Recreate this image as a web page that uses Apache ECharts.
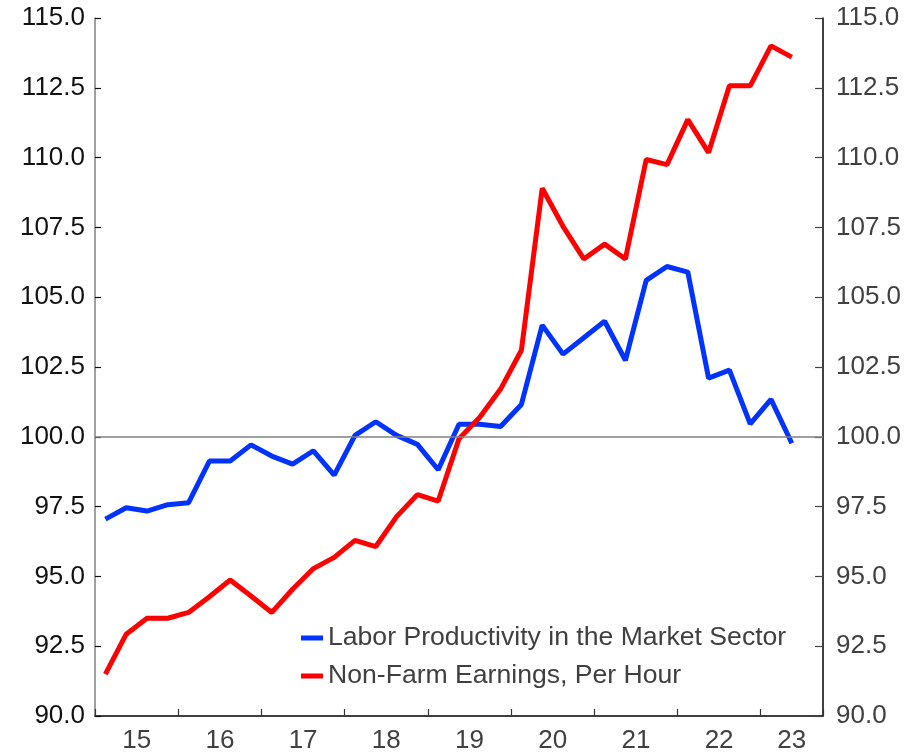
<!DOCTYPE html>
<html>
<head>
<meta charset="utf-8">
<script src="https://cdn.jsdelivr.net/npm/echarts@6/dist/echarts.min.js"></script>
<style>
html,body{margin:0;padding:0;background:#fff;}
#chart{width:912px;height:754px;}
</style>
</head>
<body>
<div id="chart"></div>
<script>
// Quarterly categories, 2015Q1 .. 2023Q3
var quarters = [
  '2015Q1','2015Q2','2015Q3','2015Q4',
  '2016Q1','2016Q2','2016Q3','2016Q4',
  '2017Q1','2017Q2','2017Q3','2017Q4',
  '2018Q1','2018Q2','2018Q3','2018Q4',
  '2019Q1','2019Q2','2019Q3','2019Q4',
  '2020Q1','2020Q2','2020Q3','2020Q4',
  '2021Q1','2021Q2','2021Q3','2021Q4',
  '2022Q1','2022Q2','2022Q3','2022Q4',
  '2023Q1','2023Q2','2023Q3'
];

var laborProductivity = [
  97.05, 97.46, 97.34, 97.57, 97.64, 99.13, 99.13, 99.71, 99.31, 99.02,
  99.50, 98.63, 100.05, 100.54, 100.05, 99.73, 98.82, 100.45, 100.45, 100.37,
  101.16, 104.00, 102.96, 103.55, 104.14, 102.74, 105.60, 106.10, 105.90, 102.10,
  102.39, 100.46, 101.34, 99.77
];

var nonFarmEarnings = [
  91.50, 92.93, 93.50, 93.50, 93.71, 94.27, 94.87, 94.30, 93.71, 94.54,
  95.28, 95.68, 96.29, 96.07, 97.14, 97.93, 97.70, 99.93, 100.70, 101.71,
  103.10, 108.90, 107.54, 106.37, 106.90, 106.37, 109.93, 109.75, 111.36, 110.18,
  112.57, 112.57, 114.00, 113.60
];

var seriesNames = ['Labor Productivity in the Market Sector', 'Non-Farm Earnings, Per Hour'];
var referenceLevel = 100;

var FONT = 'Liberation Sans, Arial, sans-serif';
var chart = echarts.init(document.getElementById('chart'));

function yAxisCfg(pos, lineColor, labelColor, tickColor, tickLen, margin) {
  return {
    type: 'value',
    position: pos,
    min: 90, max: 115, interval: 2.5,
    axisLine: { show: true, lineStyle: { color: lineColor, width: 1.5 } },
    axisTick: { show: true, inside: true, length: tickLen, lineStyle: { color: tickColor, width: 1.2 } },
    axisLabel: {
      color: labelColor, fontSize: 26, fontFamily: FONT, margin: margin,
      formatter: function (v) { return v.toFixed(1); }
    },
    splitLine: { show: false }
  };
}

chart.setOption({
  animation: false,
  backgroundColor: '#ffffff',
  grid: { left: 95, right: 89, top: 18, bottom: 37, containLabel: false },
  legend: {
    orient: 'vertical',
    left: 301, top: 623,
    padding: 0,
    data: seriesNames,
    icon: 'rect',
    itemWidth: 22, itemHeight: 5,
    itemGap: 8,
    textStyle: { color: '#404040', fontSize: 26.6, fontFamily: FONT, lineHeight: 30 }
  },
  xAxis: {
    type: 'category',
    data: quarters,
    boundaryGap: true,
    axisLine: { show: true, lineStyle: { color: '#000', width: 1.5 } },
    axisTick: {
      show: true, inside: true, length: 7,
      interval: function (i) { return i % 4 === 0; },
      lineStyle: { color: '#333', width: 1.2 }
    },
    axisLabel: {
      interval: function (i) { return i % 4 === 1; },
      margin: 12,
      color: '#404040', fontSize: 26, fontFamily: FONT,
      formatter: function (v) {
        var yy = v.slice(2, 4);
        var yearCount = quarters.filter(function (q) { return q.slice(2, 4) === yy; }).length;
        return yearCount === 4 ? '{a|' + yy + '}' : '{b|' + yy + '}';
      },
      rich: {
        a: { padding: [0, 0, 0, 21], fontSize: 26, fontFamily: FONT, color: '#404040' },
        b: { fontSize: 26, fontFamily: FONT, color: '#404040' }
      }
    },
    splitLine: { show: false }
  },
  yAxis: [
    yAxisCfg('left', '#808080', '#111', '#111', 6, 10),
    yAxisCfg('right', '#000', '#404040', '#444', 8, 13)
  ],
  series: [
    {
      name: 'ref', type: 'line', data: [], z: 1, silent: true,
      markLine: {
        silent: true, symbol: ['none', 'none'],
        label: { show: false },
        lineStyle: { color: '#808080', width: 1.5, type: 'solid' },
        data: [{ yAxis: referenceLevel }]
      }
    },
    {
      name: seriesNames[0], type: 'line', data: laborProductivity, z: 3,
      showSymbol: false, symbol: 'none',
      color: '#0033ff',
      lineStyle: { color: '#0033ff', width: 5 }
    },
    {
      name: seriesNames[1], type: 'line', data: nonFarmEarnings, z: 4,
      showSymbol: false, symbol: 'none',
      color: '#ff0000',
      lineStyle: { color: '#ff0000', width: 5 }
    }
  ]
});
</script>
</body>
</html>
